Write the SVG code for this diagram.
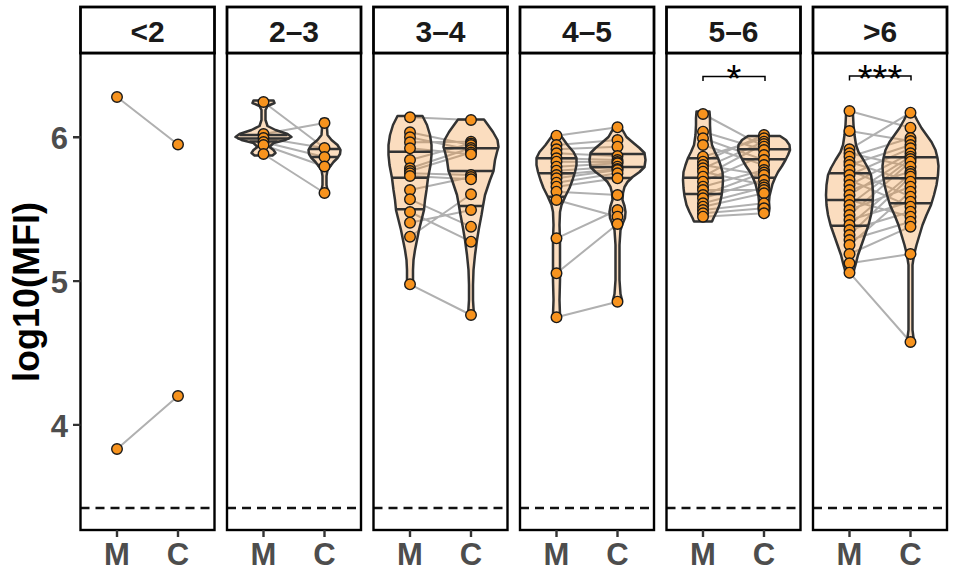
<svg xmlns="http://www.w3.org/2000/svg" width="954" height="578" viewBox="0 0 954 578">
<style>
.bg{fill:#fff;stroke:none}
.frame{fill:none;stroke:#000;stroke-width:2.4}
.strip{fill:#fff;stroke:#000;stroke-width:2.8}
.strip-t{font-family:"Liberation Sans",Arial,sans-serif;font-weight:bold;font-size:30px;fill:#1a1a1a;text-anchor:middle}
.tick-t{font-family:"Liberation Sans",Arial,sans-serif;font-weight:bold;font-size:31px;fill:#4d4d4d}
.tick{stroke:#333;stroke-width:2.4}
.dash{stroke:#111;stroke-width:2.4;stroke-dasharray:9 6}
.ln{fill:none;stroke:#b0b0b0;stroke-width:2}
.vio{fill:#f28e2b;fill-opacity:0.3;stroke:#333;stroke-width:2.5;stroke-linejoin:round}
.q{stroke:#333;stroke-width:2.5}
.pt{fill:#f7931e;stroke:#1a1a1a;stroke-width:1.4}
.sig{fill:none;stroke:#000;stroke-width:1.5}
.star{font-family:"Liberation Sans",Arial,sans-serif;font-size:38px;fill:#000;text-anchor:middle}
</style>

<g id="backgrounds">
<rect class="bg" x="80.5" y="53" width="134" height="477"/>
<rect class="bg" x="227" y="53" width="134" height="477"/>
<rect class="bg" x="373.5" y="53" width="134" height="477"/>
<rect class="bg" x="520" y="53" width="134" height="477"/>
<rect class="bg" x="666.5" y="53" width="134" height="477"/>
<rect class="bg" x="813" y="53" width="134" height="477"/>
</g>

<g id="dashed">
<line class="dash" x1="80.5" y1="508" x2="214.5" y2="508"/>
<line class="dash" x1="227" y1="508" x2="361" y2="508"/>
<line class="dash" x1="373.5" y1="508" x2="507.5" y2="508"/>
<line class="dash" x1="520" y1="508" x2="654" y2="508"/>
<line class="dash" x1="666.5" y1="508" x2="800.5" y2="508"/>
<line class="dash" x1="813" y1="508" x2="947" y2="508"/>
</g>

<g id="connectors">
<path class="ln" d="M117 97L178 144.5M117 449L178 396"/>
<path class="ln" d="M263.5 102L324.5 148M263.5 134L324.5 123M263.5 138L324.5 148M263.5 142L324.5 157M263.5 145L324.5 166.5M263.5 154L324.5 193"/>
<path class="ln" d="M410 117.3L471 120M410 132.3L471 145M410 137.3L471 150M410 142.3L471 141.7M410 148.3L471 154.3M410 160L471 143.5M410 168.3L471 148M410 171L471 152.5M410 173.3L471 175M410 176L471 179.3M410 190L471 177M410 199.3L471 226.7M410 212L471 241.7M410 222.7L471 210M410 236.7L471 194.3M410 284.3L471 315"/>
<path class="ln" d="M556.5 135.7L617.5 127.3M556.5 145L617.5 140M556.5 149.3L617.5 146.7M556.5 153.3L617.5 156M556.5 158.3L617.5 160M556.5 161.7L617.5 162M556.5 166.7L617.5 163.3M556.5 170.7L617.5 166.7M556.5 175L617.5 169M556.5 178.3L617.5 170M556.5 182.7L617.5 173.3M556.5 186.7L617.5 178.3M556.5 191.7L617.5 195M556.5 200L617.5 216.7M556.5 238.3L617.5 210M556.5 273.3L617.5 224M556.5 317.3L617.5 301.7"/>
<path class="ln" d="M703 114L764 146.7M703 131.7L764 150M703 138.3L764 160M703 145L764 165M703 156.7L764 138.3M703 161.7L764 135M703 165L764 175M703 168.3L764 141.7M703 171.7L764 185M703 176.7L764 144M703 181.7L764 155M703 186.7L764 170M703 190L764 190M703 195L764 172.5M703 198.3L764 180M703 203.3L764 187.5M703 206.7L764 193.3M703 210L764 203.3M703 213.3L764 208.3M703 216.7L764 213.3"/>
<path class="ln" d="M849.5 111L910.5 127.7M849.5 131L910.5 141M849.5 149.3L910.5 112.7M849.5 153.3L910.5 166.7M849.5 156.7L910.5 138M849.5 161.7L910.5 181.7M849.5 165L910.5 145M849.5 170L910.5 196.7M849.5 175L910.5 148.3M849.5 180L910.5 206.7M849.5 185L910.5 153.3M849.5 190L910.5 171.7M849.5 195L910.5 156.7M849.5 200L910.5 216.7M849.5 205L910.5 159M849.5 210L910.5 186.7M849.5 215L910.5 161.7M849.5 220L910.5 201.7M849.5 225L910.5 174M849.5 230L910.5 211.7M849.5 235L910.5 176.7M849.5 240L910.5 221.7M849.5 245L910.5 191.7M849.5 254L910.5 226.7M849.5 263.3L910.5 254M849.5 272.7L910.5 342"/>
</g>

<g id="panel-lt2">
<circle class="pt" cx="117" cy="97" r="5.3"/>
<circle class="pt" cx="178" cy="144.5" r="5.3"/>
<circle class="pt" cx="117" cy="449" r="5.3"/>
<circle class="pt" cx="178" cy="396" r="5.3"/>
</g>

<g id="panel-2-3">
<polygon class="vio" points="253.5,100.5 252.5,103 259.5,106 261.5,110 261.5,120 259.5,126 251.5,130 239.5,134 235.5,137 241.5,140 253.5,143 257.5,147 253.5,150 251.5,153 254.5,155.5 272.5,155.5 275.5,153 273.5,150 269.5,147 273.5,143 285.5,140 291.5,137 287.5,134 275.5,130 267.5,126 265.5,120 265.5,110 267.5,106 274.5,103 273.5,100.5"/>
<path class="q" d="M239.5 135H287.5M237.5 138.5H289.5M249.5 141.5H277.5"/>
<polygon class="vio" points="321.5,119 321.5,123 322,128 321.5,135 317.5,140 311.5,145 308.5,150 309,154 311.5,158 315.5,162 318.5,166 321.5,170 322.5,176 322.5,185 321.5,190 320.5,194 322.5,196.5 326.5,196.5 328.5,194 327.5,190 326.5,185 326.5,176 327.5,170 330.5,166 333.5,162 337.5,158 340,154 340.5,150 337.5,145 331.5,140 327.5,135 327,128 327.5,123 327.5,119"/>
<path class="q" d="M308.5 149H340.5M311.5 157H337.5M317.5 165.5H331.5"/>
<circle class="pt" cx="263.5" cy="102" r="5.3"/>
<circle class="pt" cx="263.5" cy="134" r="5.3"/>
<circle class="pt" cx="263.5" cy="138" r="5.3"/>
<circle class="pt" cx="263.5" cy="142" r="5.3"/>
<circle class="pt" cx="263.5" cy="145" r="5.3"/>
<circle class="pt" cx="263.5" cy="154" r="5.3"/>
<circle class="pt" cx="324.5" cy="123" r="5.3"/>
<circle class="pt" cx="324.5" cy="148" r="5.3"/>
<circle class="pt" cx="324.5" cy="157" r="5.3"/>
<circle class="pt" cx="324.5" cy="166.5" r="5.3"/>
<circle class="pt" cx="324.5" cy="193" r="5.3"/>
</g>

<g id="panel-3-4">
<polygon class="vio" points="397.5,116 393,125 390,135 388.5,145 388.5,155 389.5,165 392,178 393.5,190 395,200 396,210 398.5,220 401,230 403,240 405,250 406.5,260 407,270 407,280 408,286.5 412,286.5 413,280 413,270 413.5,260 415,250 417,240 419,230 421.5,220 424,210 425,200 426.5,190 428,178 430.5,165 431.5,155 431.5,145 430,135 427,125 422.5,116"/>
<path class="q" d="M388.5 151.7H431.5M392 177.7H428M396 209.3H424"/>
<polygon class="vio" points="458,119.5 454,125 449,132 444.5,140 443.5,147 445,152 447,160 448.5,171 452,180 457,195 459,206 460.5,215 463,228 465,240 467,255 468.5,270 469,285 469,300 468.5,308 468,314 469,317 473,317 474,314 473.5,308 473,300 473,285 473.5,270 475,255 477,240 479,228 481.5,215 483,206 485,195 490,180 493.5,171 495,160 497,152 498.5,147 497.5,140 493,132 488,125 484,119.5"/>
<path class="q" d="M443.5 148.3H498.5M448.5 171H493.5M459 206H483"/>
<circle class="pt" cx="410" cy="117.3" r="5.3"/>
<circle class="pt" cx="410" cy="132.3" r="5.3"/>
<circle class="pt" cx="410" cy="137.3" r="5.3"/>
<circle class="pt" cx="410" cy="142.3" r="5.3"/>
<circle class="pt" cx="410" cy="148.3" r="5.3"/>
<circle class="pt" cx="410" cy="160" r="5.3"/>
<circle class="pt" cx="410" cy="168.3" r="5.3"/>
<circle class="pt" cx="410" cy="171" r="5.3"/>
<circle class="pt" cx="410" cy="173.3" r="5.3"/>
<circle class="pt" cx="410" cy="176" r="5.3"/>
<circle class="pt" cx="410" cy="190" r="5.3"/>
<circle class="pt" cx="410" cy="199.3" r="5.3"/>
<circle class="pt" cx="410" cy="212" r="5.3"/>
<circle class="pt" cx="410" cy="222.7" r="5.3"/>
<circle class="pt" cx="410" cy="236.7" r="5.3"/>
<circle class="pt" cx="410" cy="284.3" r="5.3"/>
<circle class="pt" cx="471" cy="120" r="5.3"/>
<circle class="pt" cx="471" cy="141.7" r="5.3"/>
<circle class="pt" cx="471" cy="143.5" r="5.3"/>
<circle class="pt" cx="471" cy="145" r="5.3"/>
<circle class="pt" cx="471" cy="148" r="5.3"/>
<circle class="pt" cx="471" cy="150" r="5.3"/>
<circle class="pt" cx="471" cy="152.5" r="5.3"/>
<circle class="pt" cx="471" cy="154.3" r="5.3"/>
<circle class="pt" cx="471" cy="175" r="5.3"/>
<circle class="pt" cx="471" cy="177" r="5.3"/>
<circle class="pt" cx="471" cy="179.3" r="5.3"/>
<circle class="pt" cx="471" cy="194.3" r="5.3"/>
<circle class="pt" cx="471" cy="210" r="5.3"/>
<circle class="pt" cx="471" cy="226.7" r="5.3"/>
<circle class="pt" cx="471" cy="241.7" r="5.3"/>
<circle class="pt" cx="471" cy="315" r="5.3"/>
</g>

<g id="panel-4-5">
<polygon class="vio" points="554.5,133 550.5,138 545.5,145 539.5,152 536.5,158 536.5,165 538,172 540.5,180 543.5,188 547.5,196 551.5,205 553,212 553.5,225 553,240 553,260 553,280 553.5,300 553,315 554.5,320 558.5,320 560,315 559.5,300 560,280 560,260 560,240 559.5,225 560,212 561.5,205 565.5,196 569.5,188 572.5,180 575,172 576.5,165 576.5,158 573.5,152 567.5,145 562.5,138 558.5,133"/>
<path class="q" d="M536.5 158.3H576.5M538 173.3H575M547.5 196.7H565.5"/>
<polygon class="vio" points="615.5,125 612.5,130 608.5,137 601.5,143 595.5,148 590.5,153 589.5,160 590.5,167 595.5,172 602.5,177 607.5,182 610.5,187 612,193 612.5,200 610.5,206 609.5,212 610,218 612.5,224 614.5,230 615.5,245 615.5,280 614.5,294 613,300 615.5,304 619.5,304 622,300 620.5,294 619.5,280 619.5,245 620.5,230 622.5,224 625,218 625.5,212 624.5,206 622.5,200 623,193 624.5,187 627.5,182 632.5,177 639.5,172 644.5,167 645.5,160 644.5,153 639.5,148 633.5,143 626.5,137 622.5,130 619.5,125"/>
<path class="q" d="M590.5 154H644.5M590.5 167H644.5M603.5 178H631.5"/>
<circle class="pt" cx="556.5" cy="135.7" r="5.3"/>
<circle class="pt" cx="556.5" cy="145" r="5.3"/>
<circle class="pt" cx="556.5" cy="149.3" r="5.3"/>
<circle class="pt" cx="556.5" cy="153.3" r="5.3"/>
<circle class="pt" cx="556.5" cy="158.3" r="5.3"/>
<circle class="pt" cx="556.5" cy="161.7" r="5.3"/>
<circle class="pt" cx="556.5" cy="166.7" r="5.3"/>
<circle class="pt" cx="556.5" cy="170.7" r="5.3"/>
<circle class="pt" cx="556.5" cy="175" r="5.3"/>
<circle class="pt" cx="556.5" cy="178.3" r="5.3"/>
<circle class="pt" cx="556.5" cy="182.7" r="5.3"/>
<circle class="pt" cx="556.5" cy="186.7" r="5.3"/>
<circle class="pt" cx="556.5" cy="191.7" r="5.3"/>
<circle class="pt" cx="556.5" cy="200" r="5.3"/>
<circle class="pt" cx="556.5" cy="238.3" r="5.3"/>
<circle class="pt" cx="556.5" cy="273.3" r="5.3"/>
<circle class="pt" cx="556.5" cy="317.3" r="5.3"/>
<circle class="pt" cx="617.5" cy="127.3" r="5.3"/>
<circle class="pt" cx="617.5" cy="140" r="5.3"/>
<circle class="pt" cx="617.5" cy="146.7" r="5.3"/>
<circle class="pt" cx="617.5" cy="156" r="5.3"/>
<circle class="pt" cx="617.5" cy="160" r="5.3"/>
<circle class="pt" cx="617.5" cy="162" r="5.3"/>
<circle class="pt" cx="617.5" cy="163.3" r="5.3"/>
<circle class="pt" cx="617.5" cy="166.7" r="5.3"/>
<circle class="pt" cx="617.5" cy="169" r="5.3"/>
<circle class="pt" cx="617.5" cy="170" r="5.3"/>
<circle class="pt" cx="617.5" cy="173.3" r="5.3"/>
<circle class="pt" cx="617.5" cy="178.3" r="5.3"/>
<circle class="pt" cx="617.5" cy="195" r="5.3"/>
<circle class="pt" cx="617.5" cy="210" r="5.3"/>
<circle class="pt" cx="617.5" cy="216.7" r="5.3"/>
<circle class="pt" cx="617.5" cy="224" r="5.3"/>
<circle class="pt" cx="617.5" cy="301.7" r="5.3"/>
</g>

<g id="panel-5-6">
<path class="sig" d="M703 81V76.5H765V81"/>
<text class="star" x="734" y="92">*</text>
<polygon class="vio" points="696.5,111.5 696,118 696,125 695.5,135 694,145 691,152 688,158 685.5,165 683.5,172 683,180 683.5,188 684.5,196 686.5,205 689.5,212 692.5,218 694,221.5 712,221.5 713.5,218 716.5,212 719.5,205 721.5,196 722.5,188 723,180 722.5,172 720.5,165 718,158 715,152 712,145 710.5,135 710,125 710,118 709.5,111.5"/>
<path class="q" d="M688 158.3H718M683 177.7H723M684.5 194H721.5"/>
<polygon class="vio" points="748,136 742,140 738.5,145 738,150 740,155 742.5,160 746,166 750,172 753,178 755.5,184 757,190 758.5,196 759,202 758.5,208 759,212 760,215.5 768,215.5 769,212 769.5,208 769,202 769.5,196 771,190 772.5,184 775,178 778,172 782,166 785.5,160 788,155 790,150 789.5,145 786,140 780,136"/>
<path class="q" d="M738 149.3H790M742.5 159.3H785.5M753 177.7H775"/>
<circle class="pt" cx="703" cy="114" r="5.3"/>
<circle class="pt" cx="703" cy="131.7" r="5.3"/>
<circle class="pt" cx="703" cy="138.3" r="5.3"/>
<circle class="pt" cx="703" cy="145" r="5.3"/>
<circle class="pt" cx="703" cy="156.7" r="5.3"/>
<circle class="pt" cx="703" cy="161.7" r="5.3"/>
<circle class="pt" cx="703" cy="165" r="5.3"/>
<circle class="pt" cx="703" cy="168.3" r="5.3"/>
<circle class="pt" cx="703" cy="171.7" r="5.3"/>
<circle class="pt" cx="703" cy="176.7" r="5.3"/>
<circle class="pt" cx="703" cy="181.7" r="5.3"/>
<circle class="pt" cx="703" cy="186.7" r="5.3"/>
<circle class="pt" cx="703" cy="190" r="5.3"/>
<circle class="pt" cx="703" cy="195" r="5.3"/>
<circle class="pt" cx="703" cy="198.3" r="5.3"/>
<circle class="pt" cx="703" cy="203.3" r="5.3"/>
<circle class="pt" cx="703" cy="206.7" r="5.3"/>
<circle class="pt" cx="703" cy="210" r="5.3"/>
<circle class="pt" cx="703" cy="213.3" r="5.3"/>
<circle class="pt" cx="703" cy="216.7" r="5.3"/>
<circle class="pt" cx="764" cy="135" r="5.3"/>
<circle class="pt" cx="764" cy="138.3" r="5.3"/>
<circle class="pt" cx="764" cy="141.7" r="5.3"/>
<circle class="pt" cx="764" cy="144" r="5.3"/>
<circle class="pt" cx="764" cy="146.7" r="5.3"/>
<circle class="pt" cx="764" cy="150" r="5.3"/>
<circle class="pt" cx="764" cy="155" r="5.3"/>
<circle class="pt" cx="764" cy="160" r="5.3"/>
<circle class="pt" cx="764" cy="165" r="5.3"/>
<circle class="pt" cx="764" cy="170" r="5.3"/>
<circle class="pt" cx="764" cy="172.5" r="5.3"/>
<circle class="pt" cx="764" cy="175" r="5.3"/>
<circle class="pt" cx="764" cy="180" r="5.3"/>
<circle class="pt" cx="764" cy="185" r="5.3"/>
<circle class="pt" cx="764" cy="187.5" r="5.3"/>
<circle class="pt" cx="764" cy="190" r="5.3"/>
<circle class="pt" cx="764" cy="193.3" r="5.3"/>
<circle class="pt" cx="764" cy="203.3" r="5.3"/>
<circle class="pt" cx="764" cy="208.3" r="5.3"/>
<circle class="pt" cx="764" cy="213.3" r="5.3"/>
</g>

<g id="panel-gt6">
<path class="sig" d="M849.5 80.5V76H911V80.5"/>
<text class="star" x="880" y="92">***</text>
<polygon class="vio" points="846.5,110 846,115 845.5,125 844.5,135 843,145 840.5,152 835.5,160 831,168 828,175 826.5,185 826,195 826.5,205 828,215 830.5,225 834,235 837.5,245 841,255 843.5,265 845.5,272 848,277 851,277 853.5,272 855.5,265 858,255 861.5,245 865,235 868.5,225 871,215 872.5,205 873,195 872.5,185 871,175 868,168 863.5,160 858.5,152 856,145 854.5,135 853.5,125 853,115 852.5,110"/>
<path class="q" d="M828.5 173.3H870.5M826 200H873M830.5 225.7H868.5"/>
<polygon class="vio" points="907.5,110.5 906.5,115 904,120 899.5,128 894.5,135 889.5,142 885.5,150 883.5,158 882.5,166 883,175 884.5,185 887,195 890,205 894.5,215 898.5,225 901.5,235 904.5,245 907,255 908.5,265 908.5,300 908.5,330 907.5,338 907,343 909,346 912,346 914,343 913.5,338 912.5,330 912.5,300 912.5,265 914,255 916.5,245 919.5,235 922.5,225 926.5,215 931,205 934,195 936.5,185 938,175 938.5,166 937.5,158 935.5,150 931.5,142 926.5,135 921.5,128 917,120 914.5,115 913.5,110.5"/>
<path class="q" d="M883.5 157.3H937.5M883.5 178.3H937.5M889.5 203.3H931.5"/>
<circle class="pt" cx="849.5" cy="111" r="5.3"/>
<circle class="pt" cx="849.5" cy="131" r="5.3"/>
<circle class="pt" cx="849.5" cy="149.3" r="5.3"/>
<circle class="pt" cx="849.5" cy="153.3" r="5.3"/>
<circle class="pt" cx="849.5" cy="156.7" r="5.3"/>
<circle class="pt" cx="849.5" cy="161.7" r="5.3"/>
<circle class="pt" cx="849.5" cy="165" r="5.3"/>
<circle class="pt" cx="849.5" cy="170" r="5.3"/>
<circle class="pt" cx="849.5" cy="175" r="5.3"/>
<circle class="pt" cx="849.5" cy="180" r="5.3"/>
<circle class="pt" cx="849.5" cy="185" r="5.3"/>
<circle class="pt" cx="849.5" cy="190" r="5.3"/>
<circle class="pt" cx="849.5" cy="195" r="5.3"/>
<circle class="pt" cx="849.5" cy="200" r="5.3"/>
<circle class="pt" cx="849.5" cy="205" r="5.3"/>
<circle class="pt" cx="849.5" cy="210" r="5.3"/>
<circle class="pt" cx="849.5" cy="215" r="5.3"/>
<circle class="pt" cx="849.5" cy="220" r="5.3"/>
<circle class="pt" cx="849.5" cy="225" r="5.3"/>
<circle class="pt" cx="849.5" cy="230" r="5.3"/>
<circle class="pt" cx="849.5" cy="235" r="5.3"/>
<circle class="pt" cx="849.5" cy="240" r="5.3"/>
<circle class="pt" cx="849.5" cy="245" r="5.3"/>
<circle class="pt" cx="849.5" cy="254" r="5.3"/>
<circle class="pt" cx="849.5" cy="263.3" r="5.3"/>
<circle class="pt" cx="849.5" cy="272.7" r="5.3"/>
<circle class="pt" cx="910.5" cy="112.7" r="5.3"/>
<circle class="pt" cx="910.5" cy="127.7" r="5.3"/>
<circle class="pt" cx="910.5" cy="138" r="5.3"/>
<circle class="pt" cx="910.5" cy="141" r="5.3"/>
<circle class="pt" cx="910.5" cy="145" r="5.3"/>
<circle class="pt" cx="910.5" cy="148.3" r="5.3"/>
<circle class="pt" cx="910.5" cy="153.3" r="5.3"/>
<circle class="pt" cx="910.5" cy="156.7" r="5.3"/>
<circle class="pt" cx="910.5" cy="159" r="5.3"/>
<circle class="pt" cx="910.5" cy="161.7" r="5.3"/>
<circle class="pt" cx="910.5" cy="166.7" r="5.3"/>
<circle class="pt" cx="910.5" cy="171.7" r="5.3"/>
<circle class="pt" cx="910.5" cy="174" r="5.3"/>
<circle class="pt" cx="910.5" cy="176.7" r="5.3"/>
<circle class="pt" cx="910.5" cy="181.7" r="5.3"/>
<circle class="pt" cx="910.5" cy="186.7" r="5.3"/>
<circle class="pt" cx="910.5" cy="191.7" r="5.3"/>
<circle class="pt" cx="910.5" cy="196.7" r="5.3"/>
<circle class="pt" cx="910.5" cy="201.7" r="5.3"/>
<circle class="pt" cx="910.5" cy="206.7" r="5.3"/>
<circle class="pt" cx="910.5" cy="211.7" r="5.3"/>
<circle class="pt" cx="910.5" cy="216.7" r="5.3"/>
<circle class="pt" cx="910.5" cy="221.7" r="5.3"/>
<circle class="pt" cx="910.5" cy="226.7" r="5.3"/>
<circle class="pt" cx="910.5" cy="254" r="5.3"/>
<circle class="pt" cx="910.5" cy="342" r="5.3"/>
</g>

<g id="frames">
<rect class="frame" x="80.5" y="53" width="134" height="477"/>
<rect class="frame" x="227" y="53" width="134" height="477"/>
<rect class="frame" x="373.5" y="53" width="134" height="477"/>
<rect class="frame" x="520" y="53" width="134" height="477"/>
<rect class="frame" x="666.5" y="53" width="134" height="477"/>
<rect class="frame" x="813" y="53" width="134" height="477"/>
</g>
<g id="strips">
<rect class="strip" x="80.5" y="7" width="134" height="46"/>
<rect class="strip" x="227" y="7" width="134" height="46"/>
<rect class="strip" x="373.5" y="7" width="134" height="46"/>
<rect class="strip" x="520" y="7" width="134" height="46"/>
<rect class="strip" x="666.5" y="7" width="134" height="46"/>
<rect class="strip" x="813" y="7" width="134" height="46"/>
<text class="strip-t" x="147.5" y="42">&lt;2</text>
<text class="strip-t" x="294" y="42">2–3</text>
<text class="strip-t" x="440.5" y="42">3–4</text>
<text class="strip-t" x="587" y="42">4–5</text>
<text class="strip-t" x="733.5" y="42">5–6</text>
<text class="strip-t" x="880" y="42">&gt;6</text>
</g>

<g id="y-axis">
<path class="tick" d="M73 137.3H80.5M73 281.1H80.5M73 424.9H80.5"/>
<text class="tick-t" x="68" y="148.5" text-anchor="end">6</text>
<text class="tick-t" x="68" y="292.5" text-anchor="end">5</text>
<text class="tick-t" x="68" y="436.5" text-anchor="end">4</text>
<text x="39" y="292" transform="rotate(-90 39 292)" text-anchor="middle" font-family="Liberation Sans, Arial, sans-serif" font-weight="bold" font-size="36" fill="#000">log10(MFI)</text>
</g>
<g id="x-axis">
<path class="tick" d="M117 530V537M178 530V537M263.5 530V537M324.5 530V537M410 530V537M471 530V537M556.5 530V537M617.5 530V537M703 530V537M764 530V537M849.5 530V537M910.5 530V537"/>
<g class="tick-t" text-anchor="middle">
<text x="117" y="565">M</text><text x="178" y="565">C</text>
<text x="263.5" y="565">M</text><text x="324.5" y="565">C</text>
<text x="410" y="565">M</text><text x="471" y="565">C</text>
<text x="556.5" y="565">M</text><text x="617.5" y="565">C</text>
<text x="703" y="565">M</text><text x="764" y="565">C</text>
<text x="849.5" y="565">M</text><text x="910.5" y="565">C</text>
</g>
</g>
</svg>
